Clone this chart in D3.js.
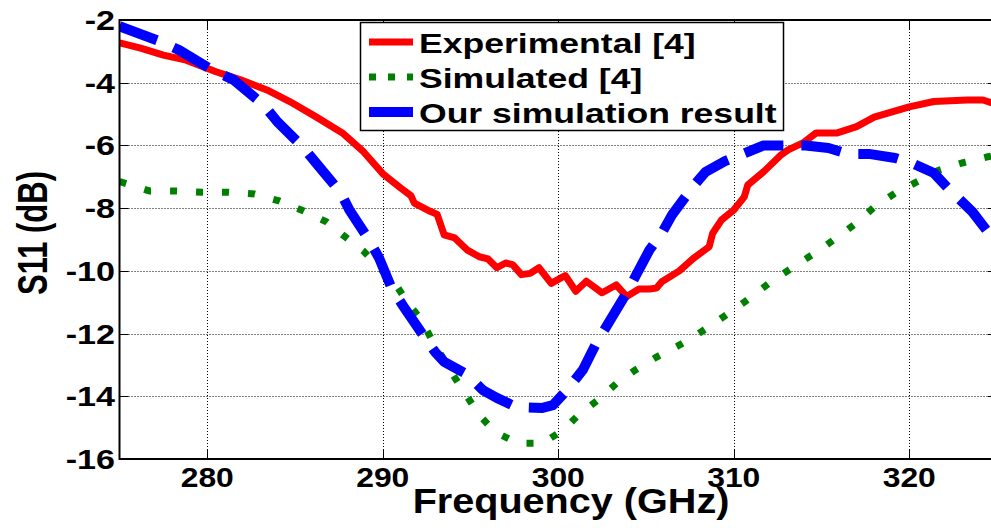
<!DOCTYPE html>
<html>
<head>
<meta charset="utf-8">
<script src="https://cdn.jsdelivr.net/npm/d3@7"></script>
<style>
  body { margin: 0; background: #fff; }
  text { font-family: "Liberation Sans", Arial, sans-serif; font-weight: bold; fill: #000; }
</style>
</head>
<body>
<div id="div_chart"></div>
<script>
// Experimental [4]
var expFreq = [275, 276.2, 277.5, 278.8, 280.5, 281.9, 283.4, 284.7, 286.2, 287.7, 288.9, 290, 291, 291.6, 291.8, 292.7, 293.1, 293.5, 294.1, 294.8, 295.5, 296, 296.5, 297, 297.4, 297.9, 298.4, 298.9, 299.6, 300.4, 301, 301.6, 302.5, 303.3, 303.9, 304.6, 305.2, 305.6, 305.9, 306.9, 307.7, 308.6, 308.8, 309.3, 310, 310.6, 310.8, 311.7, 312.7, 313.1, 314, 314.7, 315.9, 317, 318, 320, 321.4, 323.3, 324.2, 325];
var expS11 = [-2.73, -2.9, -3.12, -3.28, -3.65, -3.91, -4.23, -4.6, -5.09, -5.6, -6.2, -6.9, -7.35, -7.6, -7.84, -8.1, -8.2, -8.85, -8.95, -9.33, -9.55, -9.62, -9.9, -9.75, -9.8, -10.12, -10.08, -9.9, -10.4, -10.15, -10.65, -10.33, -10.7, -10.45, -10.82, -10.58, -10.58, -10.55, -10.35, -10.0, -9.6, -9.23, -8.8, -8.38, -8.06, -7.64, -7.26, -6.84, -6.3, -6.14, -5.9, -5.6, -5.6, -5.4, -5.1, -4.77, -4.6, -4.55, -4.55, -4.7];

// Simulated [4]
var simFreq = [275, 276.7, 278.1, 279.7, 281.2, 282.7, 284.1, 285.5, 286.8, 287.8, 288.9, 290.7, 291.4, 292.2, 292.8, 294.1, 294.8, 295.5, 296.4, 297.7, 299.1, 300.3, 301.2, 302.3, 303.3, 304.4, 305.6, 306.8, 308, 309.2, 310.6, 312, 313.6, 314.8, 315.9, 317, 318, 319.2, 320.4, 321.6, 323, 324.4, 325];
var simS11 = [-7.15, -7.45, -7.45, -7.49, -7.49, -7.55, -7.77, -8.09, -8.44, -8.89, -9.37, -10.4, -11.0, -11.57, -12.2, -13.4, -14.0, -14.6, -15.14, -15.5, -15.5, -15.07, -14.57, -14.1, -13.6, -13.16, -12.75, -12.4, -12.0, -11.55, -11.0, -10.4, -9.8, -9.37, -8.93, -8.47, -7.97, -7.52, -7.17, -6.81, -6.56, -6.37, -6.3];

// Our simulation result
var ourFreq = [275, 277.4, 278.4, 280.3, 281.5, 283.2, 284, 285.5, 286.2, 287.6, 288.1, 289.2, 289.8, 290.5, 291.2, 292.3, 293, 293.5, 294.8, 295.7, 296.5, 297.6, 299.1, 299.7, 300.5, 301.4, 302.2, 302.9, 303.9, 305.2, 305.9, 306.5, 307.7, 308.4, 309.5, 310.6, 311.7, 314.1, 315.4, 316.5, 317.7, 319.2, 320.3, 321.4, 322.2, 323.6, 324.4, 325];
var ourS11 = [-2.2, -2.7, -2.96, -3.6, -3.91, -4.7, -5.25, -6.08, -6.56, -7.5, -8.06, -9.0, -9.6, -10.55, -11.15, -12.05, -12.6, -12.9, -13.3, -13.8, -14.05, -14.34, -14.37, -14.28, -13.8, -13.16, -12.27, -11.63, -10.7, -9.33, -8.8, -8.2, -7.3, -6.84, -6.5, -6.25, -6.0, -6.0, -6.08, -6.27, -6.27, -6.4, -6.6, -6.88, -7.36, -8.12, -8.7, -9.0];

var xTicks = [280, 290, 300, 310, 320];
var yTicks = [-2, -4, -6, -8, -10, -12, -14, -16];
var legendLabels = ["Experimental [4]", "Simulated [4]", "Our simulation result"];

// Set the dimensions of the svg
var svgWidth = 991;
var svgHeight = 528;
var plot = {left: 119.5, top: 20, right: 997, bottom: 459};

var svg = d3.select("#div_chart")
    .append("svg")
        .attr("width", svgWidth)
        .attr("height", svgHeight);

// Scales
var x = d3.scaleLinear().domain([275, 325]).range([plot.left, plot.right]);
var y = d3.scaleLinear().domain([-16, -2]).range([plot.bottom, plot.top]);

// Grid lines (dotted)
svg.append("g").selectAll("line")
    .data(xTicks)
    .enter().append("line")
        .attr("x1", d => Math.round(x(d)) + 0.5)
        .attr("x2", d => Math.round(x(d)) + 0.5)
        .attr("y1", plot.top)
        .attr("y2", plot.bottom)
        .attr("stroke", "#000")
        .attr("stroke-width", 1)
        .attr("stroke-dasharray", "1,2");
svg.append("g").selectAll("line")
    .data(yTicks.slice(1, -1))
    .enter().append("line")
        .attr("x1", plot.left)
        .attr("x2", plot.right)
        .attr("y1", d => Math.round(y(d)) + 0.5)
        .attr("y2", d => Math.round(y(d)) + 0.5)
        .attr("stroke", "#000")
        .attr("stroke-width", 1)
        .attr("stroke-dasharray", "1,2");

// Clip for the curves
svg.append("clipPath").attr("id", "plotClip")
    .append("rect")
        .attr("x", plot.left)
        .attr("y", plot.top)
        .attr("width", plot.right - plot.left)
        .attr("height", plot.bottom - plot.top);

var line = d3.line()
    .x(d => x(d[0]))
    .y(d => y(d[1]));

var series = [
    {f: expFreq, v: expS11, color: "#ff0000", width: 7, dash: null},
    {f: simFreq, v: simS11, color: "#008000", width: 7, dash: "7,19"},
    {f: ourFreq, v: ourS11, color: "#0000ff", width: 10, dash: "40,18"}
];

var curves = svg.append("g").attr("clip-path", "url(#plotClip)");
series.forEach(function (s) {
    curves.append("path")
        .datum(s.f.map((f, i) => [f, s.v[i]]))
        .attr("d", line)
        .attr("fill", "none")
        .attr("stroke", s.color)
        .attr("stroke-width", s.width)
        .attr("stroke-linejoin", "round")
        .attr("stroke-dasharray", s.dash);
});

// Axes box (left, top, bottom, right off-screen)
var box = svg.append("g");
box.append("rect")
    .attr("x", plot.left)
    .attr("y", plot.top)
    .attr("width", plot.right - plot.left)
    .attr("height", plot.bottom - plot.top)
    .attr("fill", "none")
    .attr("stroke", "#000")
    .attr("stroke-width", 2);

// Inward ticks
var tickLen = 9;
xTicks.forEach(function (t) {
    var px = Math.round(x(t)) + 0.5;
    box.append("line").attr("x1", px).attr("x2", px)
        .attr("y1", plot.bottom).attr("y2", plot.bottom - tickLen)
        .attr("stroke", "#000").attr("stroke-width", 1);
    box.append("line").attr("x1", px).attr("x2", px)
        .attr("y1", plot.top).attr("y2", plot.top + tickLen)
        .attr("stroke", "#000").attr("stroke-width", 1);
});
yTicks.forEach(function (t) {
    var py = Math.round(y(t)) + 0.5;
    box.append("line").attr("x1", plot.left).attr("x2", plot.left + tickLen)
        .attr("y1", py).attr("y2", py)
        .attr("stroke", "#000").attr("stroke-width", 1);
    box.append("line").attr("x1", plot.right).attr("x2", plot.right - tickLen)
        .attr("y1", py).attr("y2", py)
        .attr("stroke", "#000").attr("stroke-width", 1);
});

// Tick labels (the original figure is stretched horizontally)
svg.append("g").selectAll("text")
    .data(xTicks)
    .enter().append("text")
        .attr("transform", d => "translate(" + x(d) + "," + 487 + ") scale(1.18,1)")
        .attr("text-anchor", "middle")
        .style("font-size", "27px")
        .text(d => d);
svg.append("g").selectAll("text")
    .data(yTicks)
    .enter().append("text")
        .attr("transform", d => "translate(115," + (y(d) + 10) + ") scale(1.22,1)")
        .attr("text-anchor", "end")
        .style("font-size", "28px")
        .text(d => d);

// Axis titles
svg.append("text")
    .attr("transform", "translate(571,513) scale(1.1,1)")
    .attr("text-anchor", "middle")
    .style("font-size", "36px")
    .text("Frequency (GHz)");
svg.append("text")
    .attr("transform", "translate(47,233) rotate(-90) scale(1,1.35)")
    .attr("text-anchor", "middle")
    .style("font-size", "31px")
    .text("S11 (dB)");

// Legend
var legend = svg.append("g");
legend.append("rect")
    .attr("x", 360.5)
    .attr("y", 22.5)
    .attr("width", 423)
    .attr("height", 108)
    .attr("fill", "#fff")
    .attr("stroke", "#000")
    .attr("stroke-width", 1.5);
var legendY = d3.scalePoint().domain(legendLabels).range([53, 123]);
legendLabels.forEach(function (lab, i) {
    var s = series[i];
    legend.append("line")
        .attr("x1", 369).attr("x2", 413)
        .attr("y1", legendY(lab) - 11).attr("y2", legendY(lab) - 11)
        .attr("stroke", s.color)
        .attr("stroke-width", s.width)
        .attr("stroke-dasharray", s.dash ? (i === 1 ? "7,12" : "44,0") : null);
    legend.append("text")
        .attr("transform", "translate(419," + legendY(lab) + ") scale(1.27,1)")
        .style("font-size", "28px")
        .text(lab);
});
</script>
</body>
</html>
